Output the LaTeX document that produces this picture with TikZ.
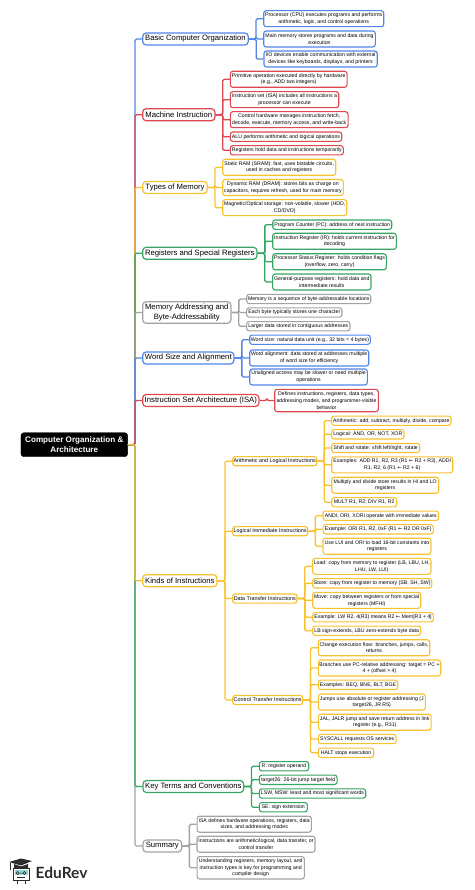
\documentclass[tikz,border=0pt]{standalone}
\usepackage{fontspec}
\setmainfont{Liberation Sans}
\newfontfamily\logofont{Lato}
\newfontfamily\arrowfont{DejaVu Sans}
\newcommand{\larr}{{\arrowfont ←}}
\usetikzlibrary{calc}
\definecolor{MapBlue}{HTML}{4F86E8}
\definecolor{MapRed}{HTML}{DE4850}
\definecolor{MapYellow}{HTML}{F8C12E}
\definecolor{MapGreen}{HTML}{35A564}
\definecolor{MapGrey}{HTML}{A3A3A3}
\definecolor{LogoInk}{HTML}{2B2B2B}
\definecolor{LogoTeal}{HTML}{8FD3D6}

\begin{document}
\begin{tikzpicture}[
        x=1pt,
        y=-1pt,
        rootbox/.style={
                fill=black,
                draw=black,
                rounded corners=3pt,
                text=white,
                align=center,
                inner sep=0pt,
                minimum width=106.7pt,
                minimum height=24pt,
                font=\fontsize{8.1}{10.5}\selectfont\bfseries
            },
        topic/.style={
                draw=#1,
                fill=white,
                line width=1.2pt,
                rounded corners=3.5pt,
                align=center,
                inner sep=0pt,
                minimum height=12pt,
                font=\fontsize{7.7}{10}\selectfont
            },
        subtopic/.style={
                draw=#1,
                fill=white,
                line width=1.2pt,
                rounded corners=2.5pt,
                align=center,
                inner sep=0pt,
                minimum height=9.2pt,
                font=\fontsize{5.4}{6.7}\selectfont
            },
        leaf/.style={
                draw=#1,
                fill=white,
                line width=1.1pt,
                rounded corners=2.5pt,
                align=center,
                inner sep=0pt,
                minimum height=9.3pt,
                font=\fontsize{5.2}{6.7}\selectfont
            },
        two/.style={minimum height=16pt},
        three/.style={minimum height=22.4pt},
        wire/.style={draw=#1, line width=1.3pt, rounded corners=1.5pt},
    ]
    \useasboundingbox (0,0) rectangle (474,890);

    % Root
    \node[rootbox] (root) at (74.3,444.7) {Computer Organization \&\\Architecture};
    \coordinate (trunk) at (135,444.7);

    % Topics
    \node[topic=MapBlue, minimum width=105.6pt] (basic) at (195.5,39) {Basic Computer Organization};
    \node[topic=MapRed, minimum width=72.3pt] (machine) at (178.8,114.7) {Machine Instruction};
    \node[topic=MapYellow, minimum width=64.6pt] (memtypes) at (175,187.5) {Types of Memory};
    \node[topic=MapGreen, minimum width=114.3pt] (regs) at (199.8,253.3) {Registers and Special Registers};
    \node[topic=MapGrey, minimum width=88.3pt, minimum height=21.6pt] (addr) at (186.8,312.5) {Memory Addressing and\\Byte-Addressability};
    \node[topic=MapBlue, minimum width=91.3pt] (word) at (188.3,358) {Word Size and Alignment};
    \node[topic=MapRed, minimum width=116.3pt] (isa) at (200.8,400.5) {Instruction Set Architecture (ISA)};
    \node[topic=MapYellow, minimum width=74.3pt] (kinds) at (179.8,580.7) {Kinds of Instructions};
    \node[topic=MapGreen, minimum width=100.7pt] (terms) at (193.3,786.5) {Key Terms and Conventions};
    \node[topic=MapGrey, minimum width=38.7pt] (summary) at (162.3,846) {Summary};

    % Instruction groups
    \node[subtopic=MapYellow, minimum width=84pt] (arith) at (274.7,461.2) {Arithmetic and Logical Instructions};
    \node[subtopic=MapYellow, minimum width=75pt] (logical) at (270.2,531.2) {Logical Immediate Instructions};
    \node[subtopic=MapYellow, minimum width=64.3pt] (transfer) at (264.8,598.5) {Data Transfer Instructions};
    \node[subtopic=MapYellow, minimum width=70pt] (control) at (267.7,700) {Control Transfer Instructions};

    % Leaves: Basic Computer Organization
    \node[leaf=MapBlue, two, minimum width=120pt] (basicA) at (323.7,18.7) {Processor (CPU) executes programs and performs\\arithmetic, logic, and control operations};
    \node[leaf=MapBlue, two, minimum width=111.6pt] (basicB) at (319.5,39) {Main memory stores programs and data during\\execution};
    \node[leaf=MapBlue, two, minimum width=113.3pt] (basicC) at (320.6,59) {I/O devices enable communication with external\\devices like keyboards, displays, and printers};

    % Leaves: Machine Instruction
    \node[leaf=MapRed, two, minimum width=116.7pt] (machineA) at (288.7,79.3) {Primitive operation executed directly by hardware\\(e.g., ADD two integers)};
    \node[leaf=MapRed, two, minimum width=108.4pt] (machineB) at (284.5,99.7) {Instruction set (ISA) includes all instructions a\\processor can execute};
    \node[leaf=MapRed, two, minimum width=117.7pt] (machineC) at (289.2,119.7) {Control hardware manages instruction fetch,\\decode, execute, memory access, and write-back};
    \node[leaf=MapRed, minimum width=111.4pt] (machineD) at (286,136.7) {ALU performs arithmetic and logical operations};
    \node[leaf=MapRed, minimum width=113pt] (machineE) at (286.8,150.3) {Registers hold data and instructions temporarily};

    % Leaves: Types of Memory
    \node[leaf=MapYellow, two, minimum width=113pt] (memtypesA) at (279.2,167.3) {Static RAM (SRAM): fast, uses bistable circuits,\\used in caches and registers};
    \node[leaf=MapYellow, two, minimum width=120.6pt] (memtypesB) at (283,187.5) {Dynamic RAM (DRAM): stores bits as charge on\\capacitors, requires refresh, used for main memory};
    \node[leaf=MapYellow, two, minimum width=124pt] (memtypesC) at (284.7,207.7) {Magnetic/Optical storage: non-volatile, slower (HDD,\\CD/DVD)};

    % Leaves: Registers and Special Registers
    \node[leaf=MapGreen, minimum width=119pt] (regsA) at (332.2,224.7) {Program Counter (PC): address of next instruction};
    \node[leaf=MapGreen, two, minimum width=123.6pt] (regsB) at (334.5,241.3) {Instruction Register (IR): holds current instruction for\\decoding};
    \node[leaf=MapGreen, two, minimum width=113.6pt] (regsC) at (329.5,261.8) {Processor Status Register: holds condition flags\\(overflow, zero, carry)};
    \node[leaf=MapGreen, two, minimum width=98.3pt] (regsD) at (321.8,282) {General-purpose registers: hold data and\\intermediate results};

    % Leaves: Memory Addressing
    \node[leaf=MapGrey, minimum width=124pt] (addrA) at (308.7,299) {Memory is a sequence of byte-addressable locations};
    \node[leaf=MapGrey, minimum width=95.3pt] (addrB) at (294.3,312.5) {Each byte typically stores one character};
    \node[leaf=MapGrey, minimum width=103.3pt] (addrC) at (298.3,326.2) {Larger data stored in contiguous addresses};

    % Leaves: Word Size and Alignment
    \node[leaf=MapBlue, minimum width=120.6pt] (wordA) at (310,339.7) {Word size: natural data unit (e.g., 32 bits = 4 bytes)};
    \node[leaf=MapBlue, two, minimum width=119pt] (wordB) at (309.2,358) {Word alignment: data stored at addresses multiple\\of word size for efficiency};
    \node[leaf=MapBlue, two, minimum width=117.6pt] (wordC) at (308.5,377) {Unaligned access may be slower or need multiple\\operations};

    % Leaves: ISA
    \node[leaf=MapRed, three, minimum width=103.6pt] (isaA) at (326.5,400.5) {Defines instructions, registers, data types,\\addressing modes, and programmer-visible\\behavior};

    % Leaves: Arithmetic and Logical
    \node[leaf=MapYellow, minimum width=119.3pt] (arithA) at (391.3,420.7) {Arithmetic: add, subtract, multiply, divide, compare};
    \node[leaf=MapYellow, minimum width=72.3pt] (arithB) at (367.8,434.3) {Logical: AND, OR, NOT, XOR};
    \node[leaf=MapYellow, minimum width=88pt] (arithC) at (375.7,448) {Shift and rotate: shift left/right, rotate};
    \node[leaf=MapYellow, two, minimum width=121pt] (arithD) at (392.2,464.8) {Examples: ADD R1, R2, R3 (R1 \larr{} R2 + R3), ADDI\\R1, R2, 6 (R1 \larr{} R2 + 6)};
    \node[leaf=MapYellow, two, minimum width=107pt] (arithE) at (385.2,485.2) {Multiply and divide store results in HI and LO\\registers};
    \node[leaf=MapYellow, minimum width=65pt] (arithF) at (364.2,502.2) {MULT R1, R2; DIV R1, R2};

    % Leaves: Logical Immediate
    \node[leaf=MapYellow, minimum width=115.7pt] (logicalA) at (380.8,515.7) {ANDI, ORI, XORI operate with immediate values};
    \node[leaf=MapYellow, minimum width=110.3pt] (logicalB) at (378.2,529.3) {Example: ORI R1, R2, 0xF (R1 \larr{} R2 OR 0xF)};
    \node[leaf=MapYellow, two, minimum width=108pt] (logicalC) at (377,546.2) {Use LUI and ORI to load 16-bit constants into\\registers};

    % Leaves: Data Transfer
    \node[leaf=MapYellow, two, minimum width=118.3pt] (transferA) at (371.8,566.3) {Load: copy from memory to register (LB, LBU, LH,\\LHU, LW, LUI)};
    \node[leaf=MapYellow, minimum width=119pt] (transferB) at (372.2,583.3) {Store: copy from register to memory (SB, SH, SW)};
    \node[leaf=MapYellow, two, minimum width=108pt] (transferC) at (366.7,600.3) {Move: copy between registers or from special\\registers (MFHI)};
    \node[leaf=MapYellow, minimum width=120.6pt] (transferD) at (373,617.2) {Example: LW R2, 4(R3) means R2 \larr{} Mem[R3 + 4]};
    \node[leaf=MapYellow, minimum width=108pt] (transferE) at (366.7,630.7) {LB sign-extends, LBU zero-extends byte data};

    % Leaves: Control Transfer
    \node[leaf=MapYellow, two, minimum width=111.4pt] (controlA) at (374,647.7) {Change execution flow: branches, jumps, calls,\\returns};
    \node[leaf=MapYellow, two, minimum width=122.4pt] (controlB) at (379.5,668) {Branches use PC-relative addressing: target = PC +\\4 + (offset × 4)};
    \node[leaf=MapYellow, minimum width=79.4pt] (controlC) at (358,684.8) {Examples: BEQ, BNE, BLT, BGE};
    \node[leaf=MapYellow, two, minimum width=107pt] (controlD) at (371.8,702) {Jumps use absolute or register addressing (J\\target26, JR R5)};
    \node[leaf=MapYellow, two, minimum width=112.7pt] (controlE) at (374.7,722.2) {JAL, JALR jump and save return address in link\\register (e.g., R31)};
    \node[leaf=MapYellow, minimum width=77.7pt] (controlF) at (357.2,739) {SYSCALL requests OS services};
    \node[leaf=MapYellow, minimum width=55.4pt] (controlG) at (346,752.7) {HALT stops execution};

    % Leaves: Key Terms
    \node[leaf=MapGreen, minimum width=49.4pt] (termsA) at (284,766.2) {R: register operand};
    \node[leaf=MapGreen, minimum width=77.7pt] (termsB) at (298.2,779.8) {target26: 26-bit jump target field};
    \node[leaf=MapGreen, minimum width=106.4pt] (termsC) at (312.5,793.5) {LSW, MSW: least and most significant words};
    \node[leaf=MapGreen, minimum width=48pt] (termsD) at (283.3,807.2) {SE: sign extension};

    % Leaves: Summary
    \node[leaf=MapGrey, two, minimum width=114.3pt] (summaryA) at (254.2,824.2) {ISA defines hardware operations, registers, data\\sizes, and addressing modes};
    \node[leaf=MapGrey, two, minimum width=118pt] (summaryB) at (256,844.2) {Instructions are arithmetic/logical, data transfer, or\\control transfer};
    \node[leaf=MapGrey, three, minimum width=107.3pt] (summaryC) at (250.7,867.8) {Understanding registers, memory layout, and\\instruction types is key for programming and\\compiler design};

    % Connectors from the root (later ones lie over earlier ones on the trunk)
    \foreach \t/\c in {basic/MapBlue, machine/MapRed, memtypes/MapYellow, regs/MapGreen, addr/MapGrey, word/MapBlue, isa/MapRed, summary/MapGrey, terms/MapGreen, kinds/MapYellow}
        \draw[wire=\c] (root.east) -- (trunk) |- (\t.west);

    % Connectors to the instruction groups
    \coordinate (kindsfork) at (225,580.7);
    \foreach \t in {arith, logical, transfer, control}
        \draw[wire=MapYellow] (kinds.east) -- (kindsfork) |- (\t.west);

    % Connectors to the leaves
    \foreach \p/\c/\leaves in {
            basic/MapBlue/{basicA,basicB,basicC},
            machine/MapRed/{machineA,machineB,machineC,machineD,machineE},
            memtypes/MapYellow/{memtypesA,memtypesB,memtypesC},
            regs/MapGreen/{regsA,regsB,regsC,regsD},
            addr/MapGrey/{addrA,addrB,addrC},
            word/MapBlue/{wordA,wordB,wordC},
            isa/MapRed/{isaA},
            arith/MapYellow/{arithA,arithB,arithC,arithD,arithE,arithF},
            logical/MapYellow/{logicalA,logicalB,logicalC},
            transfer/MapYellow/{transferA,transferB,transferC,transferD,transferE},
            control/MapYellow/{controlA,controlB,controlC,controlD,controlE,controlF,controlG},
            terms/MapGreen/{termsA,termsB,termsC,termsD},
            summary/MapGrey/{summaryA,summaryB,summaryC}}
        \foreach \l in \leaves
            \draw[wire=\c] (\p.east) -- ($(\p.east)!.5!(\p.east -| \l.west)$) |- (\l.west);

    % Logo
    \node[inner sep=0pt, anchor=west, text=LogoInk, font=\logofont\fontsize{15.5}{15.5}\selectfont\bfseries] (logotext) at (35.5,872.5) {EduRev};
    \fill[LogoInk] (9,862) -- (21,858.5) -- (32,861) -- (21,865.5) -- cycle;
    \fill[LogoInk] (14,864) -- (21,866.5) -- (28,864) -- (28,868) -- (14,868) -- cycle;
    \draw[LogoInk, line width=0.5pt] (10,862.5) -- (10,870);
    \draw[LogoInk, line width=0.8pt, fill=white] (13,868.5) rectangle (29,880);
    \fill[LogoTeal] (14.5,870) rectangle (27.5,875);
    \draw[LogoInk, line width=0.5pt] (17.5,873) circle (1.5pt) (24.5,873) circle (1.5pt) (19,873) -- (23,873);
    \draw[LogoInk, line width=0.5pt] (17,877.5) -- (25,877.5);
    \draw[LogoInk, line width=0.7pt] (17,880) -- (17,884) (25,880) -- (25,884);
\end{tikzpicture}
\end{document}
